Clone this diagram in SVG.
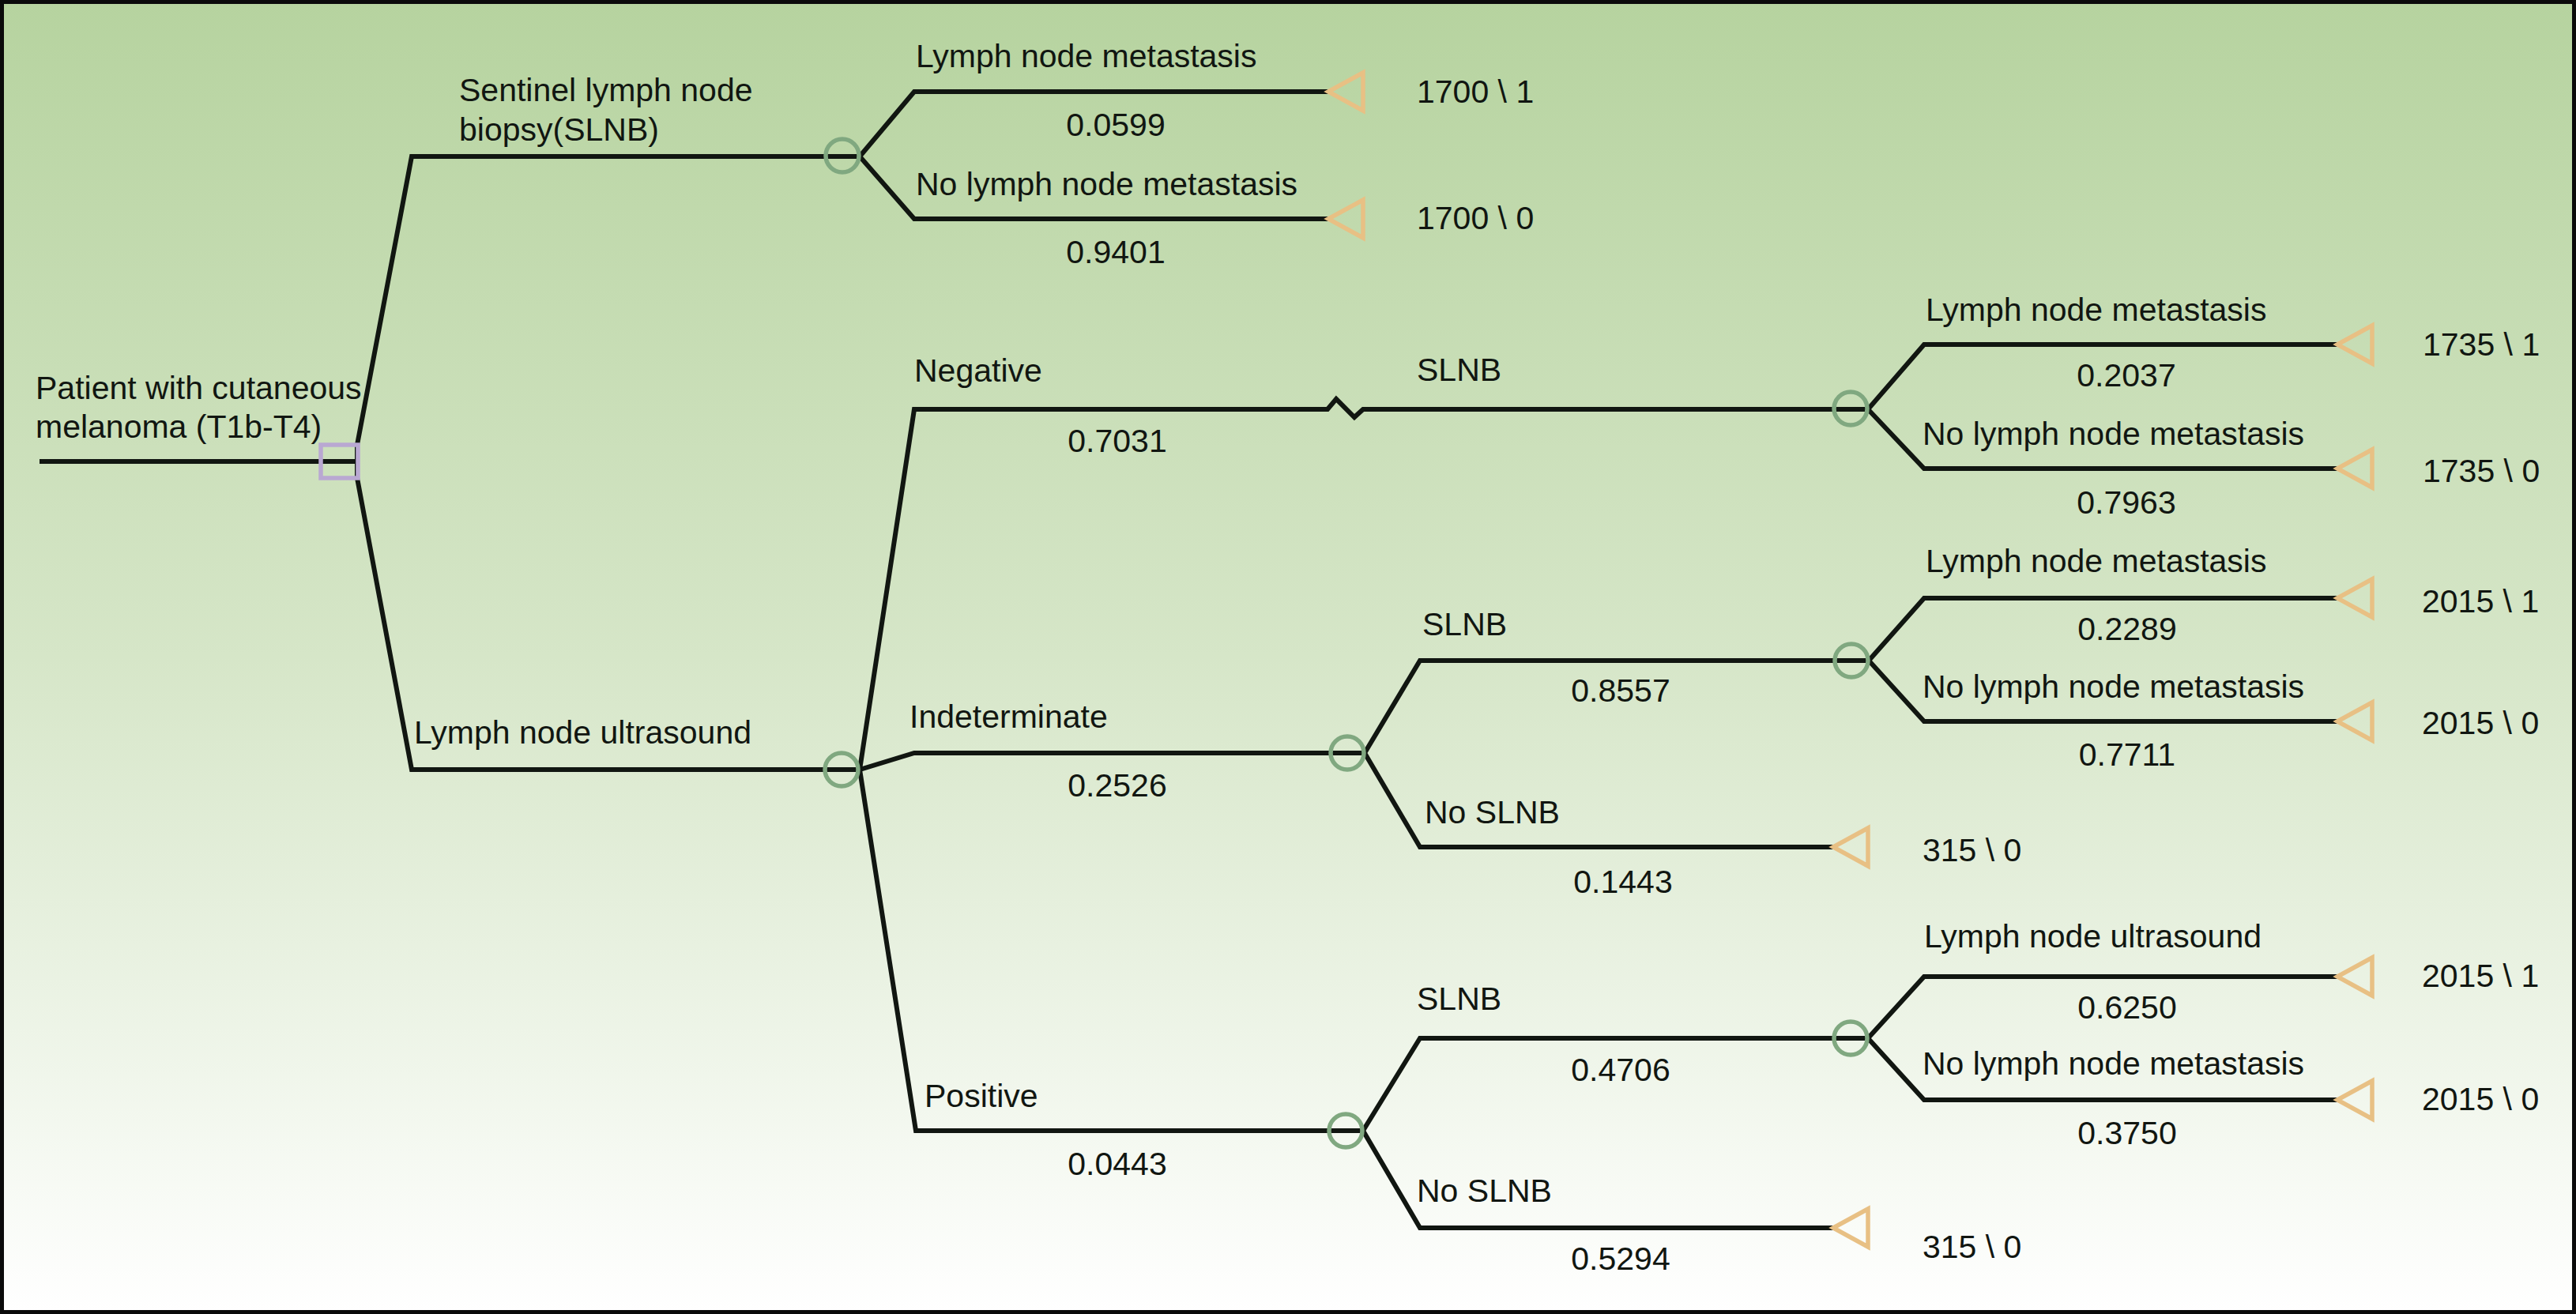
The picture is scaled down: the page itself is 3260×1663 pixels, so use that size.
<svg xmlns="http://www.w3.org/2000/svg" width="3260" height="1663" viewBox="0 0 3260 1663">
<defs>
<linearGradient id="bg" x1="0" y1="0" x2="0" y2="1">
<stop offset="0" stop-color="#b6d39f"/>
<stop offset="0.5" stop-color="#d6e6c8"/>
<stop offset="1" stop-color="#ffffff"/>
</linearGradient>
<polygon id="tri" points="0,0 44,-24 44,24"/>
</defs>
<style>
.ln{fill:none;stroke:#111611;stroke-width:6;stroke-linejoin:miter}
.ch{fill:none;stroke:#80a880;stroke-width:5.5}
.dec{fill:none;stroke:#b9a8d2;stroke-width:5.5}
.term{fill:none;stroke:#e8c084;stroke-width:5.5}
text{font-family:"Liberation Sans",Arial,sans-serif;font-size:41px;fill:#111611}
.p{text-anchor:middle}
</style>
<rect x="0" y="0" width="3260" height="1663" fill="url(#bg)"/>
<rect x="2.5" y="2.5" width="3255" height="1658" fill="none" stroke="#0a0a0a" stroke-width="5"/>

<g id="connectors">
<path class="ln" d="M50,584 H452"/>
<path class="ln" d="M1088,198 H521 L452,563 V605 L521,974 H1088"/>
<path class="ln" d="M1681,116 H1157 L1088,198 L1157,277 H1681"/>
<path class="ln" d="M2364,518 H1725 L1714,528 L1691,505 L1680,518 H1157 L1088,974 L1157,953 H1727"/>
<path class="ln" d="M1088,974 L1159,1431 H1725"/>
<path class="ln" d="M2958,436 H2435 L2364,518 L2435,593 H2958"/>
<path class="ln" d="M2365,836 H1797 L1727,953 L1797,1072 H2320"/>
<path class="ln" d="M2958,757 H2435 L2365,836 L2435,913 H2958"/>
<path class="ln" d="M2364,1314 H1797 L1725,1431 L1797,1554 H2320"/>
<path class="ln" d="M2958,1236 H2435 L2364,1314 L2435,1392 H2958"/>
</g>

<g id="labels">
<text x="581" y="128">Sentinel lymph node</text>
<text x="581" y="178">biopsy(SLNB)</text>
<text x="524" y="941">Lymph node ultrasound</text>
<text x="1159" y="85">Lymph node metastasis</text>
<text class="p" x="1412" y="172">0.0599</text>
<text x="1159" y="247">No lymph node metastasis</text>
<text class="p" x="1412" y="333">0.9401</text>
<text x="1157" y="483">Negative</text>
<text class="p" x="1414" y="572">0.7031</text>
<text x="1793" y="482">SLNB</text>
<text x="1151" y="921">Indeterminate</text>
<text class="p" x="1414" y="1008">0.2526</text>
<text x="1170" y="1401">Positive</text>
<text class="p" x="1414" y="1487">0.0443</text>
<text x="2437" y="406">Lymph node metastasis</text>
<text class="p" x="2691" y="489">0.2037</text>
<text x="2433" y="563">No lymph node metastasis</text>
<text class="p" x="2691" y="650">0.7963</text>
<text x="1800" y="804">SLNB</text>
<text class="p" x="2051" y="888">0.8557</text>
<text x="1803" y="1042">No SLNB</text>
<text class="p" x="2054" y="1130">0.1443</text>
<text x="2437" y="724">Lymph node metastasis</text>
<text class="p" x="2692" y="810">0.2289</text>
<text x="2433" y="883">No lymph node metastasis</text>
<text class="p" x="2692" y="969">0.7711</text>
<text x="1793" y="1278">SLNB</text>
<text class="p" x="2051" y="1368">0.4706</text>
<text x="1793" y="1521">No SLNB</text>
<text class="p" x="2051" y="1607">0.5294</text>
<text x="2435" y="1199">Lymph node ultrasound</text>
<text class="p" x="2692" y="1289">0.6250</text>
<text x="2433" y="1360">No lymph node metastasis</text>
<text class="p" x="2692" y="1448">0.3750</text>
</g>

<g id="root">
<text x="45" y="505">Patient with cutaneous</text>
<text x="45" y="554">melanoma (T1b-T4)</text>
</g>
<g id="decision"><rect class="dec" x="406" y="563" width="47" height="42"/></g>

<g id="chance-slnb"><circle class="ch" cx="1066" cy="197" r="21"/></g>
<g id="chance-ultrasound"><circle class="ch" cx="1065" cy="974" r="21"/></g>
<g id="chance-negative"><circle class="ch" cx="2342" cy="517" r="21"/></g>
<g id="chance-indeterminate"><circle class="ch" cx="1705" cy="953" r="21"/></g>
<g id="chance-ind-slnb"><circle class="ch" cx="2343" cy="836" r="21"/></g>
<g id="chance-positive"><circle class="ch" cx="1703" cy="1431" r="21"/></g>
<g id="chance-pos-slnb"><circle class="ch" cx="2342" cy="1314" r="21"/></g>

<g id="t1"><use href="#tri" class="term" x="1681" y="116"/><text x="1793" y="130">1700 \ 1</text></g>
<g id="t2"><use href="#tri" class="term" x="1681" y="277"/><text x="1793" y="290">1700 \ 0</text></g>
<g id="t3"><use href="#tri" class="term" x="2958" y="436"/><text x="3066" y="450">1735 \ 1</text></g>
<g id="t4"><use href="#tri" class="term" x="2958" y="593"/><text x="3066" y="610">1735 \ 0</text></g>
<g id="t5"><use href="#tri" class="term" x="2958" y="757"/><text x="3065" y="775">2015 \ 1</text></g>
<g id="t6"><use href="#tri" class="term" x="2958" y="913"/><text x="3065" y="929">2015 \ 0</text></g>
<g id="t7"><use href="#tri" class="term" x="2320" y="1072"/><text x="2433" y="1090">315 \ 0</text></g>
<g id="t8"><use href="#tri" class="term" x="2958" y="1236"/><text x="3065" y="1249">2015 \ 1</text></g>
<g id="t9"><use href="#tri" class="term" x="2958" y="1392"/><text x="3065" y="1405">2015 \ 0</text></g>
<g id="t10"><use href="#tri" class="term" x="2320" y="1554"/><text x="2433" y="1592">315 \ 0</text></g>
</svg>
